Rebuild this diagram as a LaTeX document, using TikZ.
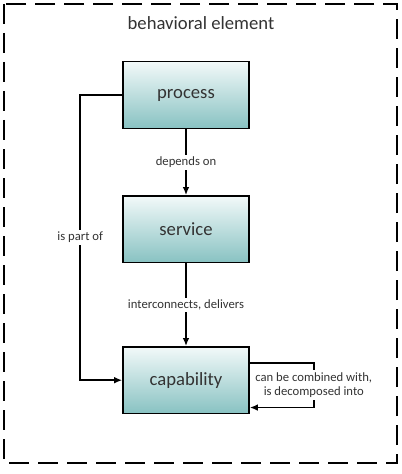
\documentclass[tikz,border=0pt]{standalone}
\usepackage{fontspec}
\setmainfont{Carlito}
\usepackage{tikz}
\usetikzlibrary{shapes.geometric, arrows, arrows.meta, positioning, calc}
\definecolor{boxtop}{HTML}{F2F9F9}
\definecolor{boxbottom}{HTML}{88C2C2}
\definecolor{inktext}{HTML}{333333}
\tikzstyle{element} = [rectangle,
minimum width=94.5pt,
minimum height=50pt,
text centered,
draw=black, line width=1.2pt,
top color=boxtop, bottom color=boxbottom,
text=inktext, font=\fontsize{14}{16}\selectfont]
\tikzstyle{relation} = [fill=white, inner sep=1.5pt, text=inktext,
font=\fontsize{9.5}{11}\selectfont, align=center]
\tikzstyle{arrow} = [line width=1.2pt,-{Latex[length=6pt,width=5pt]}]

\begin{document}
\begin{tikzpicture}[node distance=49.5pt]
            \useasboundingbox (0,0) rectangle (301.5pt,-355.5pt);
            \draw [line width=1pt, dash pattern=on 15pt off 6.75pt]
                (3pt,-3pt) rectangle (297.75pt,-347.25pt);
            \node (title) [text=inktext, font=\fontsize{14}{16}\selectfont]
                at (150.75pt,-17pt) {behavioral element};

            \node (process) [element] at (139.5pt,-71.25pt) {process};
            \node (service) [element, below=of process] {service};
            \node (capability) [element, below=62pt of service] {capability};

            \draw [arrow] (process) -- node[relation] {depends on} (service);
            \draw [arrow] (service) -- node[relation] {interconnects, delivers} (capability);
            \draw [arrow] (process.west) -- ++(-31.5pt,0)
                |- node[relation, pos=0.25] {is part of} (capability.west);
            \draw [arrow] ([yshift=13pt]capability.east) -- ++(48pt,0)
                |- node[relation, pos=0.25] {can be combined with,\\is decomposed into}
                ([yshift=-20.5pt]capability.east);
        \end{tikzpicture}
\end{document}
